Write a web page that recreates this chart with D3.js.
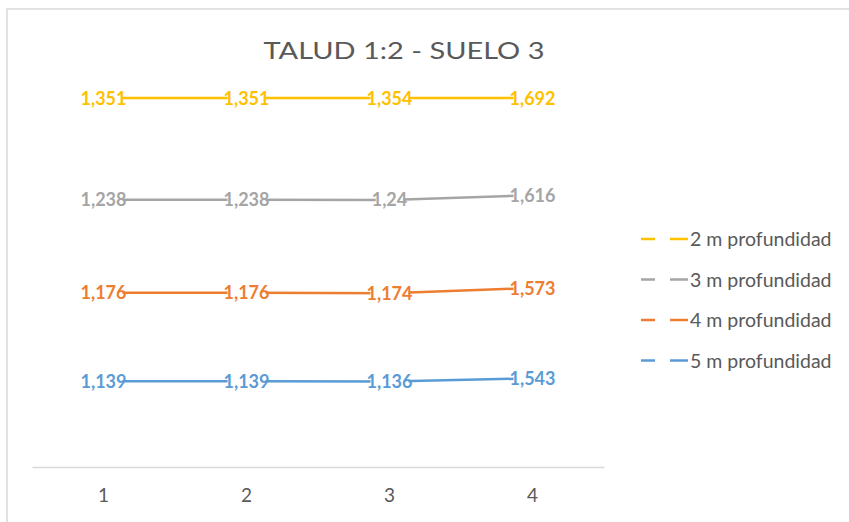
<!DOCTYPE html>
<html><head><meta charset="utf-8">
<script src="https://cdn.jsdelivr.net/npm/d3@7"></script>
<style>body{margin:0;background:#fff}svg{display:block}</style>
</head><body>
<script>
const categories = ["1","2","3","4"];
const seriesNames = ["5 m profundidad","4 m profundidad","3 m profundidad","2 m profundidad"];
const s5 = [1.139, 1.139, 1.136, 1.543];
const s4 = [1.176, 1.176, 1.174, 1.573];
const s3 = [1.238, 1.238, 1.24, 1.616];
const s2 = [1.351, 1.351, 1.354, 1.692];
const colors = ["#5B9BD5","#ED7D31","#A5A5A5","#FFC000"];
const title = "TALUD 1:2 - SUELO 3";

const W = 849, H = 522;
const svg = d3.select("body").append("svg").attr("width", W).attr("height", H);
const font = "Lato, 'Open Sans', sans-serif";

// border
svg.append("rect").attr("x",7).attr("y",9).attr("width",W+20).attr("height",H+20)
  .attr("fill","none").attr("stroke","#d9d9d9").attr("stroke-width",1.5);

const x = d3.scaleBand().domain(categories).range([32, 604]);
const y = d3.scaleLinear().domain([0, 1]).range([467, 98]);

// 100% stacked
const series = [s5, s4, s3, s2];
const totals = categories.map((c,i)=>d3.sum(series, s=>s[i]));
const cum = [];
series.forEach((s,k)=>{
  cum.push(s.map((v,i)=>((k? cum[k-1][i]*totals[i] : 0) + v)/totals[i]));
});

// axis
const xAxis = svg.append("g").attr("transform","translate(0,467)").call(d3.axisBottom(x).tickSize(0).tickPadding(22));
xAxis.select(".domain").attr("stroke","#d9d9d9").attr("stroke-width",1.5);
xAxis.selectAll("text").attr("font-family",font).attr("font-size",19).attr("fill","#595959");

svg.append("text").attr("x",404).attr("y",59).attr("text-anchor","middle")
  .attr("font-family",font).attr("font-size",24).attr("fill","#595959")
  .attr("textLength",281).attr("lengthAdjust","spacingAndGlyphs").text(title);

const line = d3.line().x((d,i)=>x(categories[i])+x.bandwidth()/2).y(d=>y(d));
series.forEach((s,k)=>{
  svg.append("path").datum(cum[k]).attr("d",line).attr("fill","none")
    .attr("stroke",colors[k]).attr("stroke-width",2.5).attr("stroke-linecap","round");
});
series.forEach((s,k)=>{
  const g = svg.append("g");
  s.forEach((d,i)=>{
    const cx = x(categories[i])+x.bandwidth()/2, cy = y(cum[k][i]);
    const r = g.append("rect").attr("fill","#fff");
    const t = g.append("text").attr("x",cx).attr("y",cy+6.5)
      .attr("text-anchor","middle").attr("font-family",font).attr("font-weight","bold")
      .attr("font-size",18).attr("fill",colors[k])
      .text(String(d).replace(".",","));
    const b = t.node().getBBox();
    r.attr("x",b.x+4).attr("y",cy-8).attr("width",Math.max(0,b.width-8)).attr("height",16);
  });
});

// legend (top to bottom: 2,3,4,5)
const legOrder = [3,2,1,0];
const lg = svg.append("g");
legOrder.forEach((k,j)=>{
  const ly = 239 + j*40.5;
  lg.append("line").attr("x1",641).attr("x2",655).attr("y1",ly).attr("y2",ly).attr("stroke",colors[k]).attr("stroke-width",2.5);
  lg.append("line").attr("x1",670).attr("x2",688).attr("y1",ly).attr("y2",ly).attr("stroke",colors[k]).attr("stroke-width",2.5);
  lg.append("text").attr("x",690).attr("y",ly+7).attr("font-family",font).attr("font-size",19.5)
    .attr("fill","#595959").text(seriesNames[k]);
});
</script>
</body></html>
